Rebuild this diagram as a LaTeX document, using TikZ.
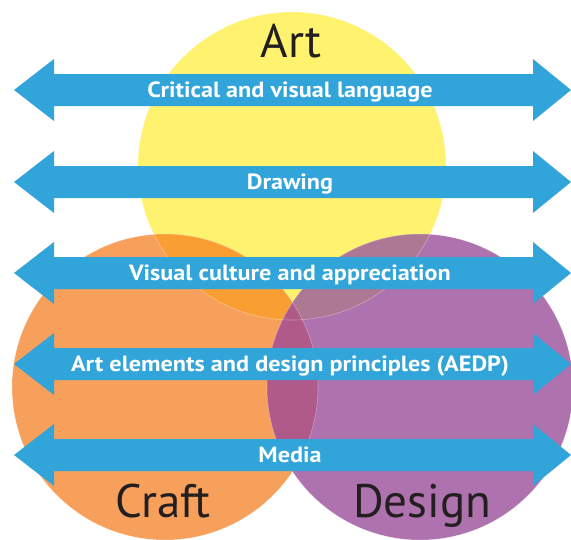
\documentclass[tikz,border=0pt]{standalone}
\usepackage{fontspec}
\setmainfont{PT Sans}
\newfontfamily\lblfont[FakeStretch=1.1]{PT Sans}
\definecolor{artyellow}{HTML}{FFF26E}
\definecolor{craftorange}{HTML}{F7A05C}
\definecolor{designpurple}{HTML}{AE72AE}
\definecolor{artcraft}{HTML}{F89E32}
\definecolor{artdesign}{HTML}{AD7893}
\definecolor{craftdesign}{HTML}{B05A8A}
\definecolor{arrowblue}{HTML}{31A4DA}
\definecolor{textdark}{HTML}{231F20}
\begin{document}
\begin{tikzpicture}[x=1pt,y=-1pt,
  big/.style={text=textdark, font=\fontsize{47}{47}\selectfont, inner sep=0pt, anchor=base},
  lbl/.style={text=white, font=\lblfont\bfseries\fontsize{22}{22}\selectfont, inner sep=0pt, anchor=base},
  rim/.style={draw=white, draw opacity=0.35, line width=0.6pt},
  bar/.style={fill=arrowblue}]
\useasboundingbox (0,0) rectangle (571,539);
\coordinate (art) at (292,166);
\coordinate (craft) at (165,387);
\coordinate (design) at (420,387);
% circles
\fill[artyellow] (art) circle[radius=154];
\fill[craftorange] (craft) circle[radius=153];
\fill[designpurple] (design) circle[radius=153];
\begin{scope}
  \clip (art) circle[radius=154];
  \fill[artcraft] (craft) circle[radius=153];
  \fill[artdesign] (design) circle[radius=153];
\end{scope}
\begin{scope}
  \clip (craft) circle[radius=153];
  \fill[craftdesign] (design) circle[radius=153];
\end{scope}
\path[rim] (art) circle[radius=154];
\path[rim] (craft) circle[radius=153];
\path[rim] (design) circle[radius=153];
% titles
\node[big] (tart) at (291,57) {Art};
\node[big] (tcraft) at (163,517) {Craft};
\node[big] (tdesign) at (422,517) {Design};
% double arrows
\foreach \c/\t [count=\i] in {90/Critical and visual language, 182/Drawing, 273/Visual culture and appreciation, 364/Art elements and design principles (AEDP), 455/Media}{
  \fill[bar] (14,\c) -- (54,\c-31) -- (54,\c-16) -- (533,\c-16) -- (533,\c-31) -- (571,\c)
     -- (533,\c+31) -- (533,\c+16) -- (54,\c+16) -- (54,\c+31) -- cycle;
  \node[lbl] (lab\i) at (290,\c+7.5) {\t};
}
\end{tikzpicture}
\end{document}
